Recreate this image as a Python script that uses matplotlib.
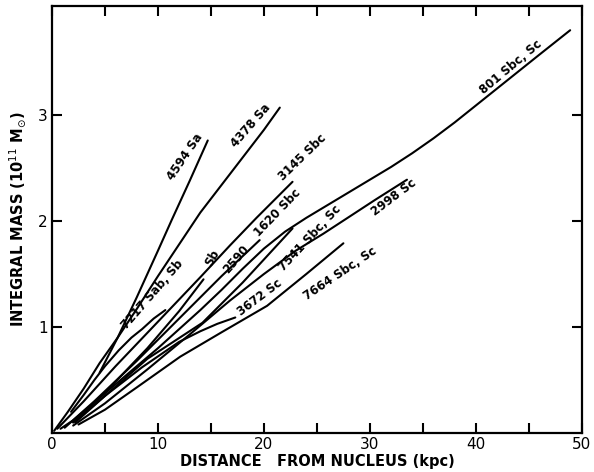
import numpy as np
import matplotlib
matplotlib.use('Agg')
import matplotlib.pyplot as plt
from matplotlib.ticker import MultipleLocator

# integral mass curves (kpc, 10^11 Msun)
x_4594 = [4.5, 6.2, 8, 10, 11.3, 13, 14.7]
y_4594 = [0.57, 0.9, 1.28, 1.72, 2.01, 2.38, 2.76]
x_4378 = [0.2, 1.5, 3, 4.5, 6.2, 8, 10, 12, 14, 16, 18, 20, 21.5]
y_4378 = [0.02, 0.2, 0.42, 0.66, 0.9, 1.17, 1.48, 1.78, 2.08, 2.34, 2.6, 2.86, 3.07]
x_7217 = [1.8, 3, 4, 5, 6.3, 7.5, 8.5, 9.6, 10.7]
y_7217 = [0.2, 0.36, 0.5, 0.63, 0.78, 0.9, 0.98, 1.08, 1.16]
x_3145 = [0.5, 3, 6, 10, 14, 16.8, 19.3, 22.7]
y_3145 = [0.04, 0.3, 0.63, 1.05, 1.47, 1.77, 2.03, 2.37]
x_1620 = [1.2, 4, 8, 12, 16, 19.6]
y_1620 = [0.05, 0.3, 0.68, 1.08, 1.48, 1.82]
x_2590 = [2, 5, 9, 12, 14.3]
y_2590 = [0.1, 0.38, 0.8, 1.15, 1.45]
x_7541 = [2.2, 5, 9, 14.2, 18, 22.7]
y_7541 = [0.1, 0.35, 0.7, 1.04, 1.42, 1.93]
x_3672 = [2, 5, 8.5, 12, 14, 15.6, 17.3]
y_3672 = [0.1, 0.35, 0.62, 0.86, 0.96, 1.03, 1.09]
x_7664 = [2.5, 5, 8, 12.1, 16, 20.3, 24, 27.5]
y_7664 = [0.08, 0.22, 0.43, 0.72, 0.95, 1.2, 1.5, 1.79]
x_2998 = [2, 5, 9, 13, 16.8, 20, 23, 25.6, 27.9, 30.5, 33.5]
y_2998 = [0.07, 0.28, 0.6, 0.93, 1.25, 1.5, 1.72, 1.88, 2.03, 2.2, 2.39]
x_801 = [0.8, 2, 4, 6, 8, 10, 12, 14, 16, 18, 20, 22, 24, 26, 28, 30, 32, 34, 36,
         38, 40, 42, 44, 46, 48.9]
y_801 = [0.04, 0.12, 0.29, 0.46, 0.63, 0.8, 0.98, 1.16, 1.35, 1.55, 1.74, 1.9, 2.03,
         2.15, 2.27, 2.39, 2.51, 2.64, 2.78, 2.93, 3.09, 3.25, 3.41, 3.57, 3.8]

curves = [(x_4594, y_4594), (x_4378, y_4378), (x_7217, y_7217), (x_3145, y_3145),
          (x_1620, y_1620), (x_2590, y_2590), (x_7541, y_7541), (x_3672, y_3672),
          (x_7664, y_7664), (x_2998, y_2998), (x_801, y_801)]

# curve labels: text, x, y, angle, side offset (points)
label_text = ['4594 Sa', '4378 Sa', '7217 Sab, Sb', '3145 Sbc', '1620 Sbc', 'Sb', '2590',
              '7541 Sbc, Sc', '3672 Sc', '7664 Sbc, Sc', '2998 Sc', '801 Sbc, Sc']
label_x = [13.0, 19.2, 9.7, 23.9, 21.5, 15.1, 17.4, 24.2, 19.8, 26.9, 32.5, 43.6]
label_y = [2.58, 2.87, 1.29, 2.57, 2.06, 1.65, 1.64, 1.86, 1.26, 1.55, 2.19, 3.42]
label_rot = [56, 49, 49, 44, 46, 60, 49, 47, 37, 34, 37, 40]
label_off = [4, 4, 2, 3, 2, 0, 0, -2, 2, -4, 3, 3]

fig = plt.figure(figsize=(5.94, 4.72), dpi=100)
ax = fig.add_axes([0.0875, 0.0826, 0.892, 0.905])

for xs, ys in curves:
    ax.plot(xs, ys, color='black', linewidth=1.5, solid_capstyle='round',
            solid_joinstyle='round')

for t, lx, ly, r, d in zip(label_text, label_x, label_y, label_rot, label_off):
    a = np.radians(r)
    ax.annotate(t, (lx, ly), xytext=(-np.sin(a) * d, np.cos(a) * d),
                textcoords='offset points', rotation=r, ha='center', va='center',
                rotation_mode='anchor', fontsize=8.5, fontweight='bold', color='black')

ax.set_xlim(0, 50)
ax.set_ylim(0, 4.03)
ax.xaxis.set_major_locator(MultipleLocator(10))
ax.xaxis.set_minor_locator(MultipleLocator(5))
ax.set_yticks([1, 2, 3])
ax.set_yticklabels(['1', '2', '3'])
ax.tick_params(which='both', direction='in', top=True, right=True, width=1.5,
               labelsize=11, pad=3, length=7)
for s in ax.spines.values():
    s.set_linewidth(1.6)

ax.set_xlabel('DISTANCE   FROM NUCLEUS (kpc)', fontsize=10.5, fontweight='bold', labelpad=1)
ax.set_ylabel(r'INTEGRAL MASS (10$^{11}$ M$_{\odot}$)', fontsize=10.5, fontweight='bold',
              labelpad=7)

fig.savefig('out.png', dpi=100)
